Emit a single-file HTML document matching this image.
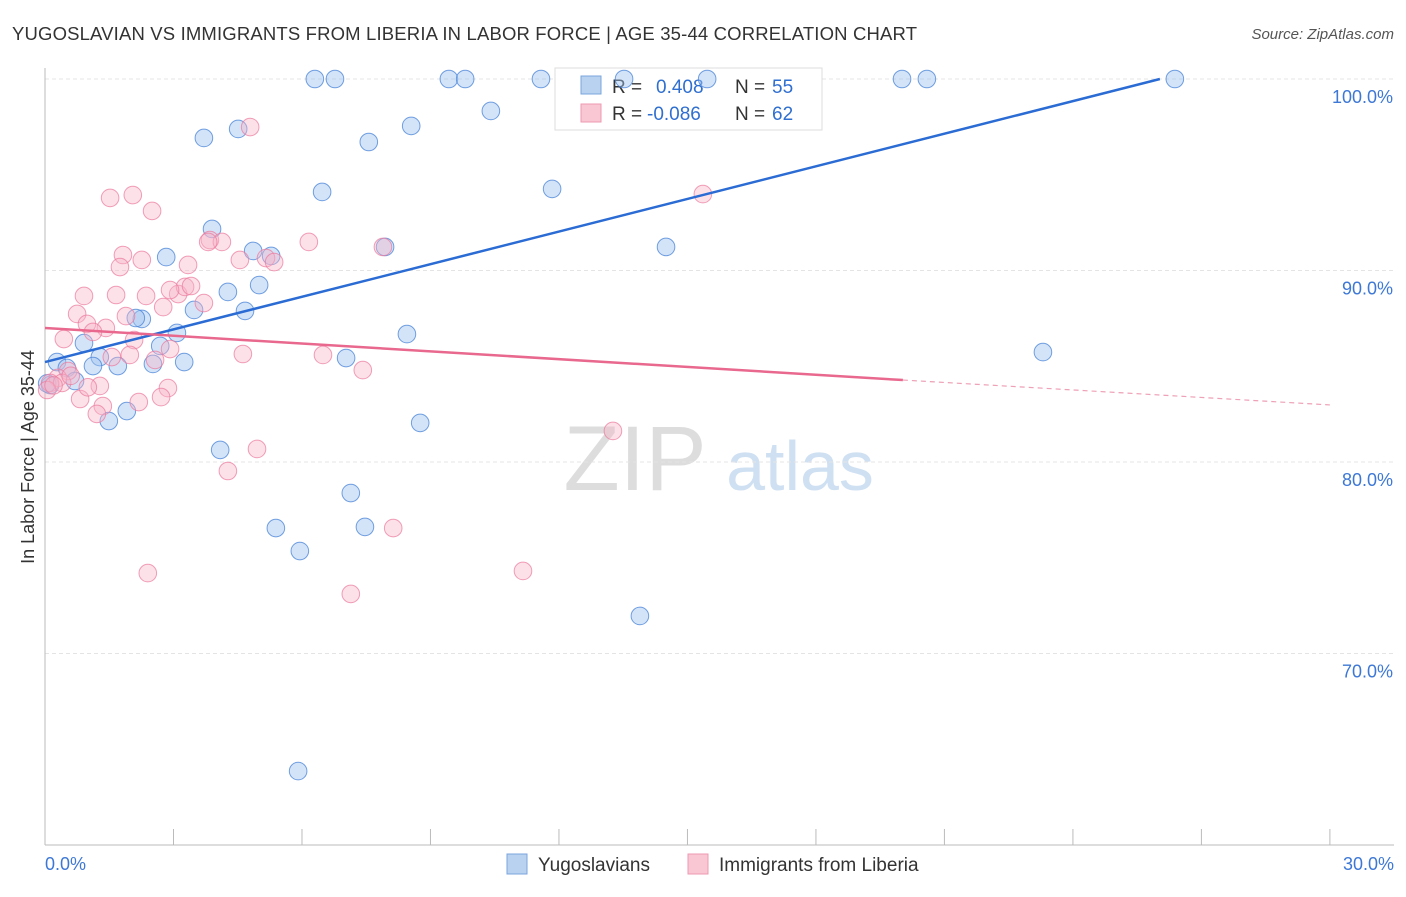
<!DOCTYPE html>
<html><head><meta charset="utf-8"><style>
body{margin:0;background:#fff;font-family:"Liberation Sans",sans-serif;}
svg text{font-family:"Liberation Sans",sans-serif;}
</style></head><body>
<svg id="chart" width="1406" height="892" viewBox="0 0 1406 892">
<text x="12" y="40" font-size="18.5" fill="#333" textLength="905">YUGOSLAVIAN VS IMMIGRANTS FROM LIBERIA IN LABOR FORCE | AGE 35-44 CORRELATION CHART</text>
<text x="1394" y="39" font-size="15" fill="#555" font-style="italic" text-anchor="end">Source: ZipAtlas.com</text>
<g><text x="635" y="490" font-size="92" fill="#ddd" font-family="Liberation Serif" text-anchor="middle">ZIP</text><text x="800" y="490" font-size="70" fill="#cfe0f2" text-anchor="middle">atlas</text></g>
<g id="grid"></g><g id="axes"></g>
<g>
<rect x="555" y="68" width="267" height="62" fill="#fff" stroke="#ddd"/>
<rect x="581" y="76" width="20" height="18" fill="#b8d2f0" stroke="#7aa5dc"/>
<rect x="581" y="104" width="20" height="18" fill="#f9c6d4" stroke="#ee9ab2"/>
<text x="612" y="93" font-size="19" fill="#333">R =</text><text x="656" y="93" font-size="19" fill="#2f6fd0">0.408</text>
<text x="735" y="93" font-size="19" fill="#333">N =</text><text x="772" y="93" font-size="19" fill="#2f6fd0">55</text>
<text x="612" y="120" font-size="19" fill="#333">R =</text><text x="647" y="120" font-size="19" fill="#2f6fd0">-0.086</text>
<text x="735" y="120" font-size="19" fill="#333">N =</text><text x="772" y="120" font-size="19" fill="#2f6fd0">62</text>
</g>
<g id="pts"></g><g id="lines"></g>
<text x="34" y="457" font-size="18" fill="#333" transform="rotate(-90 34 457)" text-anchor="middle">In Labor Force | Age 35-44</text>
<g>
<rect x="507" y="854" width="20" height="20" fill="#b8d2f0" stroke="#7aa5dc"/>
<text x="538" y="871" font-size="19" fill="#333">Yugoslavians</text>
<rect x="688" y="854" width="20" height="20" fill="#f9c6d4" stroke="#ee9ab2"/>
<text x="719" y="871" font-size="19" fill="#333">Immigrants from Liberia</text>
</g>
</svg>
<script>
const xTicks=[0,3,6,9,12,15,18,21,24,27,30];
const yTicks=[100,90,80,70];
const yTickLabels=["100.0%","90.0%","80.0%","70.0%"];
const blueX=[6.30,6.77,9.43,9.81,11.58,13.52,15.46,20.01,20.59,26.38,3.71,4.51,7.56,8.55,10.41,6.47,11.84,3.90,2.83,4.86,5.28,4.27,5.00,4.67,3.48,2.26,2.12,3.08,2.69,0.91,1.28,1.70,2.52,3.25,1.12,0.28,0.51,0.70,0.12,1.91,1.49,4.09,7.03,8.45,8.76,7.14,5.39,7.47,5.95,13.89,14.50,23.30,5.91,7.94,0.05];
const blueY=[100,100,100,100,100,100,100,100,100,100,96.92,97.39,96.71,97.55,98.33,94.10,94.26,92.17,90.70,91.02,90.76,88.88,89.24,87.89,87.94,87.47,87.52,86.74,86.06,86.21,85.48,85.01,85.12,85.22,85.01,85.22,84.91,84.23,84.02,82.66,82.14,80.63,85.43,86.68,82.04,78.38,76.55,76.61,75.35,71.96,91.23,85.74,63.86,91.23,84.1];
const pinkX=[4.79,1.52,2.05,2.50,15.36,1.82,2.26,1.75,3.34,3.85,4.13,3.81,6.16,7.89,5.16,5.35,0.91,1.66,2.36,3.11,3.27,3.41,3.71,2.76,0.75,1.89,0.98,1.42,1.12,0.44,2.08,2.92,1.56,1.98,2.57,4.62,6.49,7.42,0.54,0.30,0.12,0.40,1.28,2.87,0.82,2.19,2.71,1.35,1.21,13.26,4.95,4.27,8.13,2.40,11.16,7.14,2.92,4.55,0.05,0.2,0.6,1.0];
const pinkY=[97.49,93.79,93.94,93.11,93.99,90.81,90.55,90.18,90.29,91.59,91.49,91.49,91.49,91.23,90.65,90.44,88.67,88.72,88.67,88.77,89.14,89.19,88.30,88.09,87.73,87.62,87.21,87.00,86.79,86.42,86.37,85.90,85.48,85.59,85.33,85.64,85.59,84.80,84.75,84.39,84.13,84.13,83.97,83.86,83.29,83.13,83.39,82.92,82.51,81.62,80.68,79.53,76.55,74.20,74.31,73.11,88.98,90.55,83.76,84.0,84.5,83.9];
const blueTrend=[[0,85.22],[26.03,100]];
const pinkTrend=[[0,87.0],[20.03,84.28]];
const pinkTrendExt=[[20.03,84.28],[30,82.98]];
const X=v=>45+v*42.83, Y=v=>79+(100-v)*19.15;
const NS="http://www.w3.org/2000/svg";
function mk(tag,at,parent){const e=document.createElementNS(NS,tag);for(const k in at)e.setAttribute(k,at[k]);document.getElementById(parent).appendChild(e);return e;}
yTicks.forEach((t,i)=>{
 const g=mk('line',{x1:45,x2:1394,y1:Y(t),y2:Y(t),stroke:'#e4e4e4','stroke-dasharray':'4,3'},'grid');
 
 
 const l=mk('text',{x:1393,y:Y(t)+24,'font-size':18,fill:'#3d78d6','text-anchor':'end'},'axes');l.textContent=yTickLabels[i];
 
 
});
const ax=mk('line',{x1:45,x2:45,y1:68,y2:845,stroke:'#bbb'},'axes');


const bx=mk('line',{x1:45,x2:1394,y1:845,y2:845,stroke:'#bbb'},'axes');


xTicks.forEach(t=>{const e=mk('line',{x1:X(t),x2:X(t),y1:829,y2:845,stroke:'#bbb'},'axes');
 
 });
[[0,"0.0%","start",45],[30,"30.0%","end",1394]].forEach(a=>{const e=mk('text',{x:a[3],y:870,'font-size':18,fill:'#3d78d6','text-anchor':a[2]},'axes');e.textContent=a[1];
 
 });
blueX.forEach((v,i)=>{const c=mk('circle',{cx:X(v),cy:Y(blueY[i]),r:8.8,fill:'rgba(160,195,240,0.45)',stroke:'rgba(70,130,215,0.75)','stroke-width':1},'pts');
 
 });
pinkX.forEach((v,i)=>{const c=mk('circle',{cx:X(v),cy:Y(pinkY[i]),r:8.8,fill:'rgba(248,180,200,0.4)',stroke:'rgba(235,120,155,0.7)','stroke-width':1},'pts');
 
 });
const bl=mk('line',{x1:X(blueTrend[0][0]),y1:Y(blueTrend[0][1]),x2:X(blueTrend[1][0]),y2:Y(blueTrend[1][1]),stroke:'#2a6bd4','stroke-width':2.5},'lines');


const pl=mk('line',{x1:X(pinkTrend[0][0]),y1:Y(pinkTrend[0][1]),x2:X(pinkTrend[1][0]),y2:Y(pinkTrend[1][1]),stroke:'#e8688e','stroke-width':2.5},'lines');


const pd=mk('line',{x1:X(pinkTrendExt[0][0]),y1:Y(pinkTrendExt[0][1]),x2:X(pinkTrendExt[1][0]),y2:Y(pinkTrendExt[1][1]),stroke:'#eea0b6','stroke-width':1.2,'stroke-dasharray':'5,4'},'lines');


</script>
</body></html>
